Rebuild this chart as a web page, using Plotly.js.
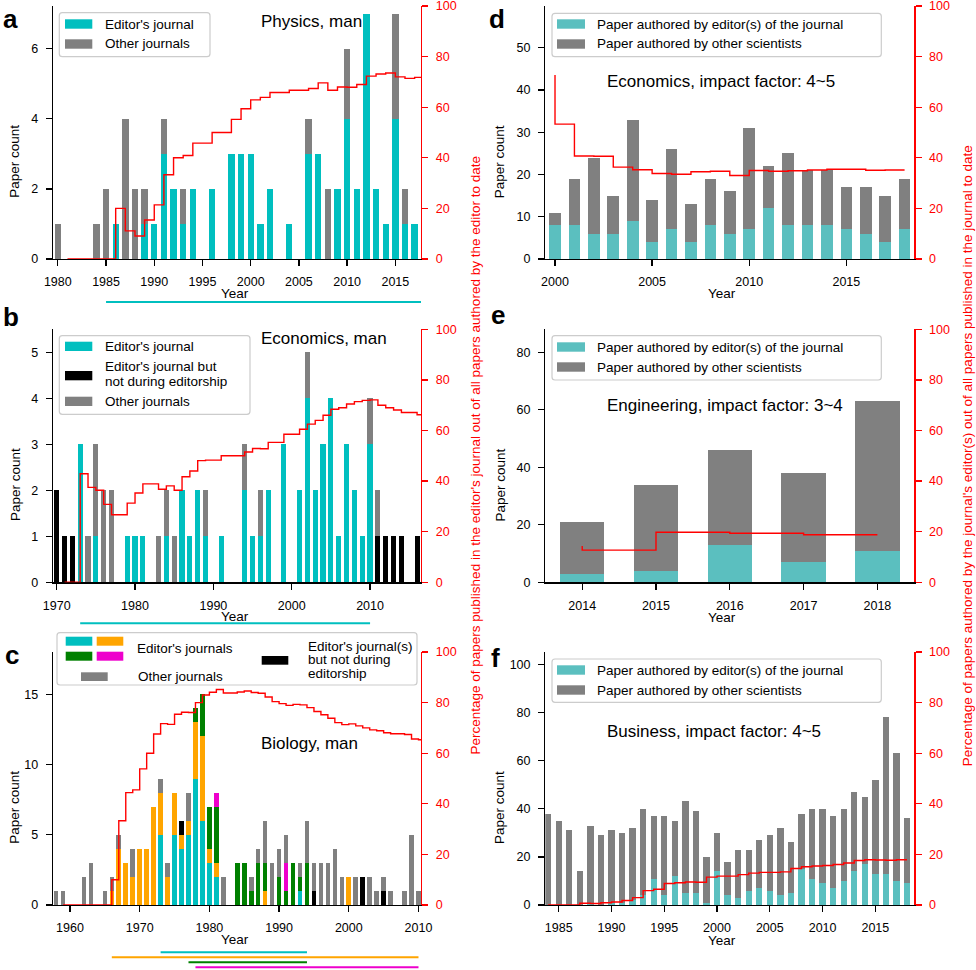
<!DOCTYPE html>
<html><head><meta charset="utf-8">
<script src="https://cdn.plot.ly/plotly-3.0.1.min.js"></script>
<style>html,body{margin:0;padding:0;background:#fff}</style>
</head><body>
<div id="chart" style="width:976px;height:970px"></div>
<script>
// ---------------- DATA ----------------
// Panel a: Physics, man
const yearsA = [1980,1981,1982,1983,1984,1985,1986,1987,1988,1989,1990,1991,1992,1993,1994,1995,1996,1997,1998,1999,2000,2001,2002,2003,2004,2005,2006,2007,2008,2009,2010,2011,2012,2013,2014,2015,2016,2017];
const editorA = [0,0,0,0,0,0,1,0,0,1, 1,3,2,1,2,0,2,0,3,3, 3,1,2,0,1,0,3,3,0,2, 4,2,7,2,1,4,1,1];
const otherA  = [1,0,0,0,1,2,0,4,2,1, 0,1,0,1,0,0,0,0,0,0, 0,0,0,0,0,0,1,0,2,0, 2,0,0,0,0,3,1,0];
const pctA    = [0,0,0,0,0,0,20,11.1,9.1,15.4, 21.4,33.3,40,40.9,45.8,45.8,50,50,55.2,59.4, 62.9,63.9,65.8,65.8,66.7,66.7,67.4,69.6,66.7,68, 67.9,69,72.3,73.1,73.5,72,71.4,71.8];
const editorshipA = [1985, 2017.66];

// Panel b: Economics, man
const yearsB = [1970,1971,1972,1973,1974,1975,1976,1977,1978,1979,1980,1981,1982,1983,1984,1985,1986,1987,1988,1989,1990,1991,1992,1993,1994,1995,1996,1997,1998,1999,2000,2001,2002,2003,2004,2005,2006,2007,2008,2009,2010,2011,2012,2013,2014,2015,2016];
const editorB     = [0,0,0,3,0,1,0,0,0,1, 1,1,0,0,1,0,2,1,2,1, 0,1,0,0,2,1,1,2,0,3, 0,2,4,2,3,4,1,3,2,1, 3,0,0,0,0,0,0];
const notDuringB  = [2,1,1,0,0,0,0,0,0,0, 0,0,0,0,0,0,0,0,0,0, 0,0,0,0,0,0,0,0,0,0, 0,0,0,0,0,0,0,0,0,0, 0,1,1,1,1,0,1];
const otherB      = [0,0,0,0,1,2,2,2,0,0, 0,0,0,1,1,1,0,0,0,1, 0,0,0,0,1,0,1,0,0,0, 0,0,1,0,0,0,0,0,0,0, 1,1,0,0,0,0,0];
const pctB        = [0,0,0,42.9,37.5,36.4,30.8,26.7,26.7,31.3, 35.3,38.9,38.9,36.8,38.1,36.4,41.7,44,48.1,48.3, 48.3,50,50,50,51.5,52.9,52.8,55.3,55.3,58.5, 58.5,60.5,62.5,64,66,68.4,69,70.5,71.4,71.9, 72.1,70,69,68.1,67.1,67.1,66.2];
const editorshipB = [1973, 2010];

// Panel c: Biology, man
const yearsC = [1958,1959,1960,1961,1962,1963,1964,1965,1966,1967,1968,1969,1970,1971,1972,1973,1974,1975,1976,1977,1978,1979,1980,1981,1982,1983,1984,1985,1986,1987,1988,1989,1990,1991,1992,1993,1994,1995,1996,1997,1998,1999,2000,2001,2002,2003,2004,2005,2006,2007,2008,2009,2010];
const cyanC    = [0,0, 0,0,0,0,0,0,0,0,0,0, 0,0,0,5,0,5,4,5,9,6, 3,2,0,0,0,0,0,0,0,0, 0,0,0,1,0,0,0,0,0,0, 0,0,0,0,0,0,0,0,0,0,0];
const orangeC  = [0,0, 0,0,0,0,0,0,1,4,3,2, 4,4,7,3,2,3,1,1,4,6, 1,1,0,0,0,0,0,0,1,0, 0,0,0,0,0,0,0,0,0,0, 2,0,0,0,0,0,0,0,0,0,0];
const greenC   = [0,0, 0,0,0,0,0,0,0,0,0,0, 0,0,0,0,0,0,0,0,1,3, 3,4,0,0,3,3,1,3,2,0, 2,1,3,1,3,0,0,0,0,0, 0,0,0,0,0,0,0,0,0,0,0];
const magentaC = [0,0, 0,0,0,0,0,0,0,0,0,0, 0,0,0,0,0,0,0,0,0,0, 0,1,0,0,0,0,0,0,0,0, 0,2,0,0,0,0,0,0,0,0, 0,0,0,0,0,0,0,0,0,0,0];
const blackC   = [0,0, 0,0,0,0,0,0,0,0,0,0, 0,0,0,0,0,0,1,0,0,0, 0,0,0,0,0,0,0,0,0,0, 0,0,0,0,0,1,0,0,0,0, 0,0,2,0,0,1,0,0,0,0,0];
const grayC    = [1,1, 0,0,2,3,0,1,1,1,0,2, 0,0,0,1,1,0,0,2,0,0, 0,0,2,0,0,0,1,1,3,3, 2,2,0,1,3,2,3,3,4,2, 0,2,0,2,1,1,1,0,1,5,1];
const pctC     = [0,0, 0,0,0,0,0,0,10,33.3,44.4,45.5, 53.8,60,67.6,71.7,71.4,75.4,76.2,76.1,80,83, 84.1,85.2,83.8,83.8,84.2,84.6,84,83.7,82.2,80.4, 79.6,78.9,79.3,79.1,78,76.5,75.2,73.8,72.1,71.3, 71.6,70.8,70,69.2,68.9,68.1,67.7,67.7,67.4,65.6,65.3];
const editorshipC = {cyan:[1973,1994], orange:[1966,2010], green:[1977,1994], magenta:[1978,2010]};

// Panel d: Economics, impact factor 4~5
const yearsD  = [2000,2001,2002,2003,2004,2005,2006,2007,2008,2009,2010,2011,2012,2013,2014,2015,2016,2017,2018];
const editorD = [8,8,6,6,9,4,7,4,8,6,7,12,8,8,8,7,6,4,7];
const otherD  = [3,11,18,9,24,10,19,9,11,10,24,10,17,13,13,10,11,11,12];
const pctD    = [72.7,53.3,40.7,40.6,36.3,35.3,33.8,33.5,34.5,34.7,33.0,35.0,34.7,34.9,35.2,35.5,35.5,35.1,35.2];

// Panel e: Engineering, impact factor 3~4
const yearsE  = [2014,2015,2016,2017,2018];
const editorE = [3,4,13,7,11];
const otherE  = [18,30,33,31,52];
const pctE    = [14.3,12.7,19.8,19.4,18.8];

// Panel f: Business, impact factor 4~5
const yearsF  = [1984,1985,1986,1987,1988,1989,1990,1991,1992,1993,1994,1995,1996,1997,1998,1999,2000,2001,2002,2003,2004,2005,2006,2007,2008,2009,2010,2011,2012,2013,2014,2015,2016,2017,2018];
const editorF = [0,0,0,0,1,0,1,1,2,4, 11,4,12,5,5,1,14,4,3,6, 7,6,4,5,15,11,9,7,10,14, 17,13,13,10,9];
const otherF  = [38,35,31,14,32,29,30,29,30,36, 26,33,23,38,34,19,16,14,20,17, 20,23,28,21,23,29,31,30,30,33, 28,39,65,53,27];
const pctF    = [0,0,0,0,0.7,0.6,0.9,1.2,1.8,2.9, 5.7,6.2,8.5,8.8,9.1,9.0,11.0,11.4,11.4,12.0, 12.6,12.9,12.9,13.1,14.4,15.1,15.4,15.6,16.0,16.6, 17.6,17.9,17.8,17.7,17.9];

// ---------------- STYLE ----------------
const W = 976, H = 970;
const FONT = 'Liberation Sans, Arial, Helvetica, sans-serif';
const CYAN = '#00BFBF', GRAY = '#808080', BLACK = '#000000', ORANGE = '#FFA500',
      GREEN = '#008000', MAGENTA = '#EE00CC', RED = '#FF0000', TEAL = '#5BBFBF';
const px = x => x / W;
const py = y => 1 - y / H;

const BOX = {
  a: {x0:53, x1:421, y0:6, y1:259, xr:[1979.5,2017.66], yr:[0,7.22], xt0:1980, xdt:5, ydt:2},
  b: {x0:53, x1:421, y0:329.3, y1:582.3, xr:[1969.53,2016.5], yr:[0,5.5], xt0:1970, xdt:10, ydt:1},
  c: {x0:53, x1:421, y0:652, y1:905, xr:[1957.56,2010.36], yr:[0,18.0], xt0:1960, xdt:10, ydt:5},
  d: {x0:545.3, x1:914.3, y0:6, y1:259, xr:[1999.5,2018.5], yr:[0,59.9], xt0:2000, xdt:5, ydt:10},
  e: {x0:545.3, x1:914.3, y0:329.3, y1:582.3, xr:[2013.5,2018.5], yr:[0,88], xt0:2014, xdt:1, ydt:20},
  f: {x0:545.3, x1:914.3, y0:652, y1:905, xr:[1983.73,2018.69], yr:[0,105.1], xt0:1985, xdt:5, ydt:20}
};
const ORDER = ['a','b','c','d','e','f'];

const layout = {
  width: W, height: H, margin:{l:0,r:0,t:0,b:0},
  paper_bgcolor:'#fff', plot_bgcolor:'rgba(0,0,0,0)',
  barmode:'stack', showlegend:false,
  font:{family:FONT, size:12.5, color:'#000'},
  shapes:[], annotations:[]
};

ORDER.forEach((k, i) => {
  const b = BOX[k];
  const n = i + 1;
  const xs = n === 1 ? '' : String(n);
  const xd = [px(b.x0), px(b.x1)];
  const yd = [py(b.y1), py(b.y0)];
  layout['xaxis' + xs] = {
    domain: xd, range: b.xr, anchor: 'y' + xs,
    tickmode:'linear', tick0:b.xt0, dtick:b.xdt,
    ticks:'outside', ticklen:6, tickwidth:1.3, tickcolor:'#000',
    showline:true, linecolor:'#000', linewidth:1.3,
    showgrid:false, zeroline:false, layer:'below traces',
    tickfont:{family:FONT, size:12.5, color:'#000'}, ticklabelstandoff:5,
    ticklabeloverflow:'allow'
  };
  layout['yaxis' + xs] = {
    domain: yd, range: b.yr, anchor: 'x' + xs,
    tickmode:'linear', tick0:0, dtick:b.ydt,
    ticks:'outside', ticklen:6, tickwidth:1.3, tickcolor:'#000',
    showline:true, linecolor:'#000', linewidth:1.3,
    showgrid:false, zeroline:false,
    tickfont:{family:FONT, size:12.5, color:'#000'}, ticklabelstandoff:5,
    ticklabeloverflow:'allow'
  };
  layout['yaxis' + (n + 6)] = {
    overlaying: n === 1 ? 'y' : 'y' + n, side:'right', anchor:'x' + xs,
    range:[0,100], tickmode:'linear', tick0:0, dtick:20,
    ticks:'outside', ticklen:6, tickwidth:1.3, tickcolor:RED,
    showline:true, linecolor:RED, linewidth:1.3,
    showgrid:false, zeroline:false,
    tickfont:{family:FONT, size:12.5, color:RED}, ticklabelstandoff:5,
    ticklabeloverflow:'allow'
  };
});

const data = [];
function ax(k) { const n = ORDER.indexOf(k) + 1; return n === 1 ? '' : String(n); }
function bar(k, x, y, color, width) {
  const s = ax(k);
  data.push({type:'bar', x:x, y:y, xaxis:'x'+s, yaxis:'y'+s, width:width,
    marker:{color:color, line:{width:0}}, hoverinfo:'skip'});
}
function line(k, x, y) {
  const n = ORDER.indexOf(k) + 1;
  data.push({type:'scatter', mode:'lines', x:x, y:y, xaxis:'x'+ax(k), yaxis:'y'+(n+6),
    line:{color:RED, width:1.4, shape:'vh'}, hoverinfo:'skip'});
}
const shift = arr => arr.map(v => v + 1);   // value to date of year Y drawn from boundary Y

// a
bar('a', yearsA, editorA, CYAN, 0.66);
bar('a', yearsA, otherA, GRAY, 0.66);
line('a', shift(yearsA), pctA);
// b
bar('b', yearsB, editorB, CYAN, 0.66);
bar('b', yearsB, notDuringB, BLACK, 0.66);
bar('b', yearsB, otherB, GRAY, 0.66);
line('b', shift(yearsB), pctB);
// c
bar('c', yearsC, cyanC, CYAN, 0.66);
bar('c', yearsC, orangeC, ORANGE, 0.66);
bar('c', yearsC, greenC, GREEN, 0.66);
bar('c', yearsC, magentaC, MAGENTA, 0.66);
bar('c', yearsC, blackC, BLACK, 0.66);
bar('c', yearsC, grayC, GRAY, 0.66);
line('c', shift(yearsC), pctC);
// d
bar('d', yearsD, editorD, TEAL, 0.6);
bar('d', yearsD, otherD, GRAY, 0.6);
line('d', yearsD, pctD);
// e
bar('e', yearsE, editorE, TEAL, 0.6);
bar('e', yearsE, otherE, GRAY, 0.6);
line('e', yearsE, pctE);
// f
bar('f', yearsF, editorF, TEAL, 0.6);
bar('f', yearsF, otherF, GRAY, 0.6);
line('f', yearsF, pctF);

// ---------- helpers for text & legend ----------
function ann(text, x, y, o) {
  o = o || {};
  layout.annotations.push(Object.assign({
    xref:'paper', yref:'paper', x:px(x), y:py(y), text:text, showarrow:false,
    xanchor:'left', yanchor:'middle',
    font:{family:FONT, size:o.size || 13.5, color:o.color || '#000'}
  }, o.extra || {}));
}
function rect(x0, y0, x1, y1, color) {
  layout.shapes.push({type:'rect', xref:'paper', yref:'paper', layer:'above',
    x0:px(x0), x1:px(x1), y0:py(y1), y1:py(y0), fillcolor:color, line:{width:0}});
}
function frame(x0, y0, x1, y1) {
  const r = 3;
  const P = (x, y) => px(x) + ',' + py(y);
  const path = 'M' + P(x0 + r, y0) + ' L' + P(x1 - r, y0) + ' Q' + P(x1, y0) + ' ' + P(x1, y0 + r) +
    ' L' + P(x1, y1 - r) + ' Q' + P(x1, y1) + ' ' + P(x1 - r, y1) +
    ' L' + P(x0 + r, y1) + ' Q' + P(x0, y1) + ' ' + P(x0, y1 - r) +
    ' L' + P(x0, y0 + r) + ' Q' + P(x0, y0) + ' ' + P(x0 + r, y0) + ' Z';
  layout.shapes.push({type:'path', xref:'paper', yref:'paper', layer:'above', path:path,
    fillcolor:'rgba(255,255,255,0.85)', line:{color:'#cccccc', width:1.2}});
}
function underline(k, range, y, color) {
  layout.shapes.push({type:'line', xref:'x'+ax(k), yref:'paper', layer:'above',
    x0:range[0], x1:range[1], y0:py(y), y1:py(y), line:{color:color, width:2}});
}

// panel letters
const LET = {a:[10,19], b:[11,317], c:[12,655], d:[497,19], e:[497.5,315], f:[495,658]};
ORDER.forEach(k => ann('<b>' + k + '</b>', LET[k][0], LET[k][1],
  {size:26, extra:{xanchor:'center'}}));

// panel titles
ann('Physics, man', 258.7, 21, {size:17});
ann('Economics, man', 258.7, 338, {size:17});
ann('Biology, man', 258.7, 743, {size:17});
ann('Economics, impact factor: 4~5', 605.3, 81, {size:17});
ann('Engineering, impact factor: 3~4', 605.3, 405, {size:17});
ann('Business, impact factor: 4~5', 605.3, 731, {size:17});

// axis titles
[[234.5,293.5],[234.5,616.5],[234.5,939.5],[721.5,293.5],[721.5,617.5],[721.5,940.5]].forEach(p =>
  ann('Year', p[0], p[1], {extra:{xanchor:'center'}}));
[[15,161.7],[15,485],[15,807.7],[499.5,161.7],[499.5,485],[499.5,807.5]].forEach(p =>
  ann('Paper count', p[0], p[1], {extra:{xanchor:'center', textangle:-90}}));
ann("Percentage of papers published in the editor's journal out of all papers authored by the editor to date",
  475, 455.5, {color:RED, extra:{xanchor:'center', textangle:-90}});
ann("Percentage of papers authored by the journal's editor(s) out of all papers published in the journal to date",
  967.7, 455.5, {color:RED, extra:{xanchor:'center', textangle:-90}});

// legends a
frame(59.3, 12.7, 210, 56.7);
rect(65, 19.3, 92.3, 28.7, CYAN); ann("Editor's journal", 102.7, 24);
rect(65, 39.3, 92.3, 48.7, GRAY); ann('Other journals', 102.7, 44);
// legend b
frame(59.3, 335.7, 250, 414.3);
rect(65, 341.7, 92.3, 351, CYAN); ann("Editor's journal", 102.7, 346.7);
rect(65, 371, 92.3, 380.3, BLACK); ann("Editor's journal but", 102.7, 366.7); ann('not during editorship', 102.7, 381.7);
rect(65, 396.7, 92.3, 406, GRAY); ann('Other journals', 102.7, 401.7);
// legend c
frame(57, 632.7, 417, 685);
rect(65.7, 636.7, 92.3, 645.7, CYAN); rect(96.7, 636.7, 123.3, 645.7, ORANGE);
rect(65.7, 651.7, 92.3, 660.7, GREEN); rect(96.7, 651.7, 123.3, 660.7, MAGENTA);
ann("Editor's journals", 135, 648.3);
rect(81, 672.3, 107.7, 681, GRAY); ann('Other journals', 136, 676);
rect(261.7, 656, 288.3, 664.7, BLACK);
ann("Editor's journal(s)", 306, 646); ann('but not during', 306, 659.5); ann('editorship', 306, 673.5);
// legends d, e, f
[[13.3,56.7,19.3,39.3,24,44],[335.7,380,342.3,362.3,347,367],[659,702.3,665.3,685.3,670,690]].forEach(r => {
  frame(552, r[0], 881.3, r[1]);
  rect(557, r[2], 585, r[2] + 9.4, TEAL); ann('Paper authored by editor(s) of the journal', 595.3, r[4]);
  rect(557, r[3], 585, r[3] + 9.4, GRAY); ann('Paper authored by other scientists', 595.3, r[5]);
});

// editorship periods
underline('a', editorshipA, 302, CYAN);
underline('b', editorshipB, 623.3, CYAN);
underline('c', editorshipC.cyan, 952.3, CYAN);
underline('c', editorshipC.orange, 957.3, ORANGE);
underline('c', editorshipC.green, 962.3, GREEN);
underline('c', editorshipC.magenta, 967.3, MAGENTA);

Plotly.newPlot('chart', data, layout, {staticPlot:true, displayModeBar:false});
</script>
</body></html>
